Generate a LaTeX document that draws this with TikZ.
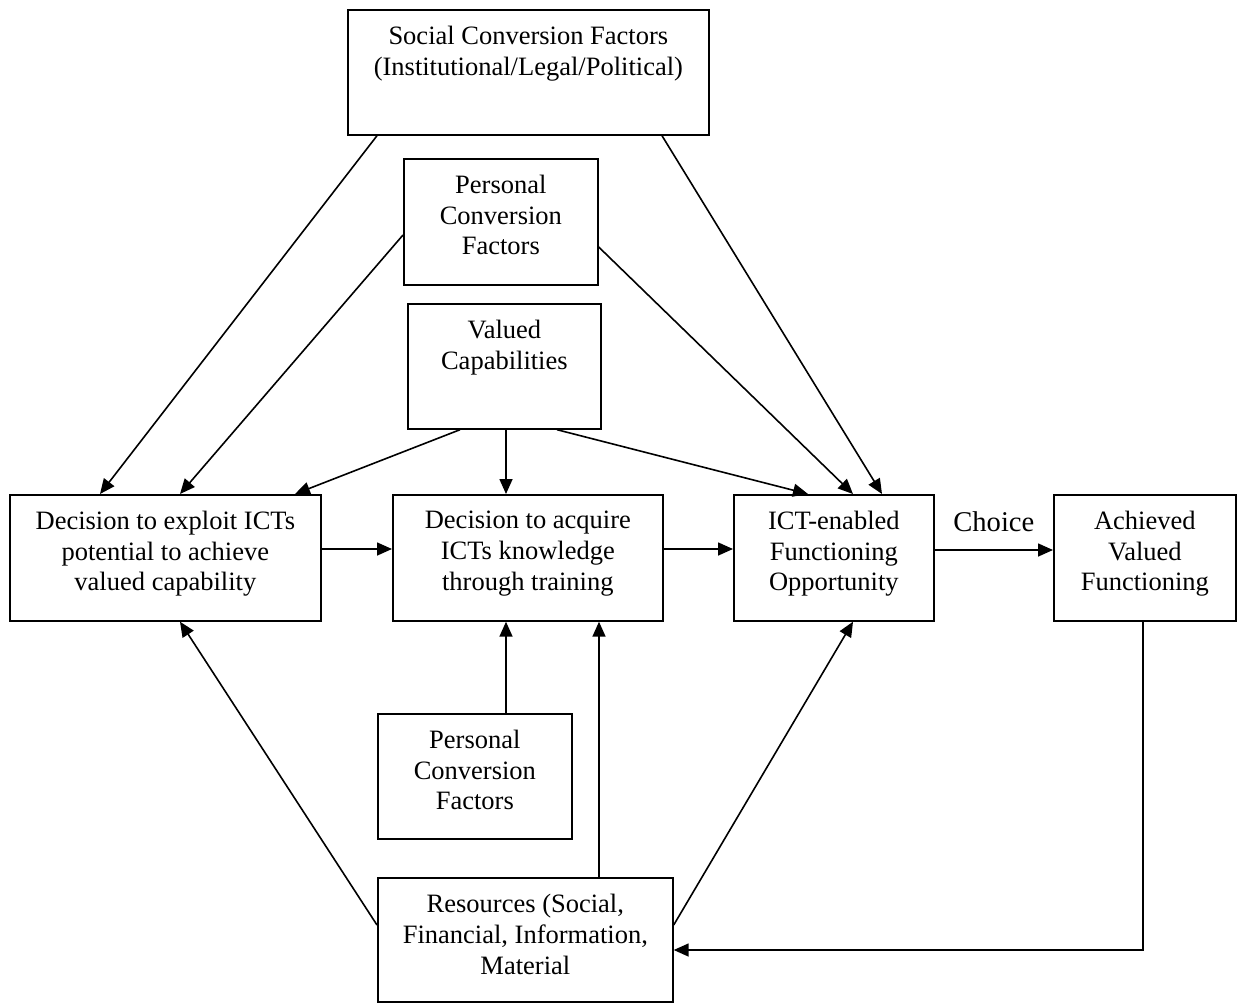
\documentclass[tikz,border=0pt]{standalone}
\usepackage{fontspec}
\setmainfont{Liberation Serif}
\usetikzlibrary{arrows.meta,calc}
\begin{document}
\begin{tikzpicture}[x=1pt,y=-1pt,
  box/.style={draw, line width=1.7pt, inner sep=0pt, anchor=north west},
  txt/.style={align=center, inner sep=0pt, anchor=north, font=\fontsize{26.5}{30.7}\selectfont},
  arr/.style={line width=1.6pt, -{Triangle[length=15pt,width=13pt]}}]
\useasboundingbox (0,0) rectangle (1237,1002);

% boxes
\node[box, minimum width=361pt, minimum height=125pt] (soc) at (347,9) {};
\node[txt] (soct) at ($(soc.north)+(0,17)$) {Social Conversion Factors\\(Institutional/Legal/Political)};

\node[box, minimum width=194pt, minimum height=126pt] (pct) at (403,158) {};
\node[txt] (pctt) at ($(pct.north)+(0,17)$) {Personal\\Conversion\\Factors};

\node[box, minimum width=193pt, minimum height=125pt] (val) at (407,303) {};
\node[txt] (valt) at ($(val.north)+(0,17)$) {Valued\\Capabilities};

\node[box, minimum width=311pt, minimum height=126pt] (A) at (9,494) {};
\node[txt] (At) at ($(A.north)+(0,17)$) {Decision to exploit ICTs\\potential to achieve\\valued capability};

\node[box, minimum width=270pt, minimum height=126pt] (B) at (392,494) {};
\node[txt] (Bt) at ($(B.north)+(0,17)$) {Decision to acquire\\ICTs knowledge\\through training};

\node[box, minimum width=200pt, minimum height=126pt] (C) at (733,494) {};
\node[txt] (Ct) at ($(C.north)+(0,17)$) {ICT-enabled\\Functioning\\Opportunity};

\node[box, minimum width=182pt, minimum height=126pt] (D) at (1053,494) {};
\node[txt] (Dt) at ($(D.north)+(0,17)$) {Achieved\\Valued\\Functioning};

\node[box, minimum width=194pt, minimum height=125pt] (pcb) at (377,713) {};
\node[txt] (pcbt) at ($(pcb.north)+(0,17)$) {Personal\\Conversion\\Factors};

\node[box, minimum width=295pt, minimum height=124pt] (res) at (377,877) {};
\node[txt] (rest) at ($(res.north)+(0,17)$) {Resources (Social,\\Financial, Information,\\Material};

% connectors
\draw[arr] ($(soc.south west)+(30,0)$) -- ($(A.north west)+(91,0)$);
\draw[arr] ($(pct.north west)+(0,77)$) -- ($(A.north west)+(171,0)$);
\draw[arr] ($(val.south west)+(53,0)$) -- ($(A.north west)+(286,0)$);
\draw[arr] ($(val.south west)+(99,0)$) -- ($(B.north west)+(114,0)$);
\draw[arr] ($(val.south west)+(150,0)$) -- ($(C.north west)+(75,0)$);
\draw[arr] ($(pct.north east)+(0,89)$) -- ($(C.north west)+(120,0)$);
\draw[arr] ($(soc.south west)+(315,0)$) -- ($(C.north west)+(149,0)$);
\draw[arr] ($(A.north east)+(0,55)$) -- ($(B.north west)+(0,55)$);
\draw[arr] ($(B.north east)+(0,55)$) -- ($(C.north west)+(0,55)$);
\draw[arr] ($(C.north east)+(0,56)$) -- node[anchor=base, yshift=19pt, inner sep=0pt, font=\fontsize{28.6}{33}\selectfont] (choice) {Choice} ($(D.north west)+(0,56)$);
\draw[arr] ($(pcb.north west)+(129,0)$) -- ($(B.south west)+(114,0)$);
\draw[arr] ($(res.north west)+(0,48)$) -- ($(A.south west)+(171,0)$);
\draw[arr] ($(res.north west)+(222,0)$) -- ($(B.south west)+(207,0)$);
\draw[arr] ($(res.north east)+(0,48)$) -- ($(C.south west)+(120,0)$);
\draw[arr] ($(D.south west)+(90,0)$) |- ($(res.north east)+(0,73)$);
\end{tikzpicture}
\end{document}
